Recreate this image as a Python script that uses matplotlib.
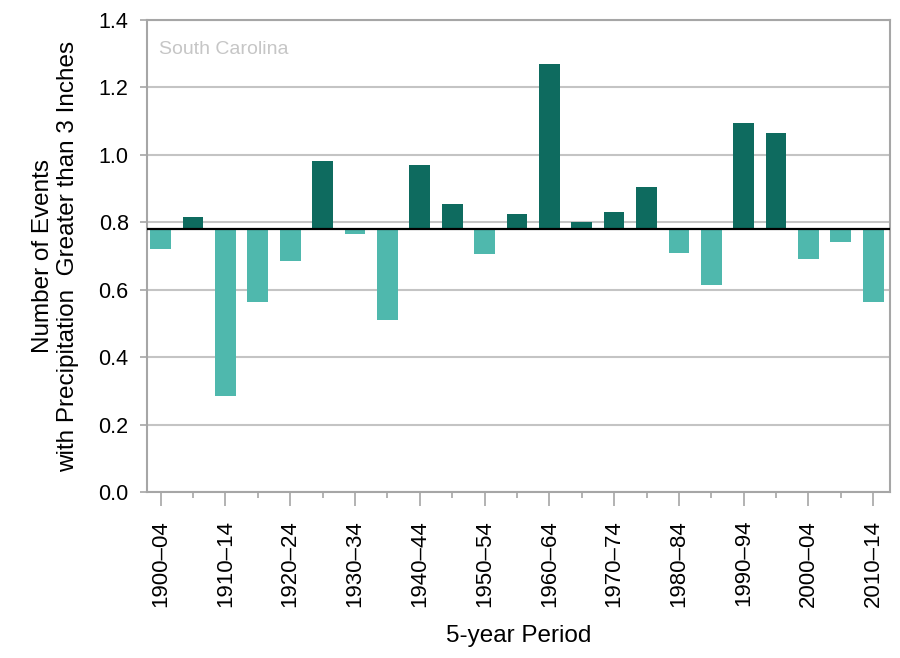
import matplotlib.pyplot as plt
import numpy as np

plt.rcParams['font.family'] = ['Liberation Sans', 'DejaVu Sans']

periods = ['1900–04', '1905–09', '1910–14', '1915–19', '1920–24', '1925–29',
           '1930–34', '1935–39', '1940–44', '1945–49', '1950–54', '1955–59',
           '1960–64', '1965–69', '1970–74', '1975–79', '1980–84', '1985–89',
           '1990–94', '1995–99', '2000–04', '2005–09', '2010–14']
events = [0.72, 0.815, 0.285, 0.565, 0.685, 0.98, 0.765, 0.51, 0.97, 0.855,
          0.705, 0.825, 1.27, 0.80, 0.83, 0.905, 0.71, 0.615, 1.095, 1.065,
          0.69, 0.74, 0.565]
baseline = 0.78

dark = '#0e6b5f'
light = '#4fb8ad'
grid_c = '#c4c4c4'
spine_c = '#a6a6a6'

fig = plt.figure(figsize=(9, 6.58), dpi=100)
ax = fig.add_axes([0.163, 0.252, 0.826, 0.718])

x = np.arange(len(periods))
vals = np.array(events)
colors = [dark if v >= baseline else light for v in vals]
ax.bar(x, vals - baseline, bottom=baseline, width=0.64, color=colors, zorder=2)
ax.axhline(baseline, color='black', lw=1.6, zorder=3)

ax.set_ylim(0, 1.4)
ax.set_yticks(np.arange(0, 1.41, 0.2))
ax.set_yticklabels(['%.1f' % t for t in np.arange(0, 1.41, 0.2)])
ax.yaxis.grid(True, color=grid_c, lw=1.5, zorder=0)
ax.set_xlim(-0.43, len(periods) - 0.48)

ax.set_xticks(x[::2])
ax.set_xticklabels(periods[::2], rotation=90)
ax.set_xticks(x[1::2], minor=True)
ax.tick_params(axis='x', which='major', length=10, width=1.2, color=spine_c,
               labelsize=16, pad=10)
ax.tick_params(axis='x', which='minor', length=4.5, width=1.2, color=spine_c)
ax.tick_params(axis='y', length=5, width=1.2, color=spine_c, labelsize=15.5, pad=8)

for s in ax.spines.values():
    s.set_color(spine_c)
    s.set_linewidth(1.5)

ax.set_xlabel('5-year Period', fontsize=17.5, labelpad=13)
ax.set_ylabel('Number of Events\nwith Precipitation  Greater than 3 Inches',
              fontsize=17.5, labelpad=14, linespacing=1.15)
ax.text(0.016, 0.955, 'South Carolina', transform=ax.transAxes, fontsize=14,
        color='#c6c6c6', va='top', ha='left')

fig.savefig('out.png')
